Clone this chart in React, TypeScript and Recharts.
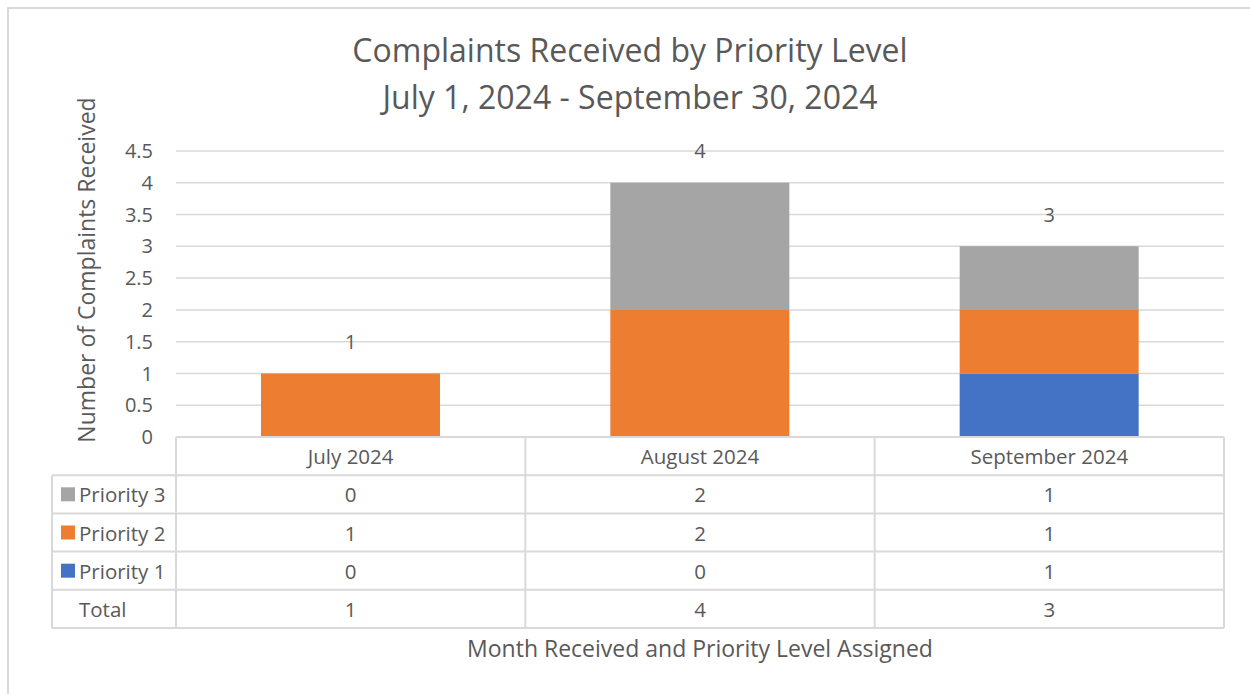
import React from "react";
import { ComposedChart, Bar, Line, XAxis, YAxis, CartesianGrid, LabelList } from "recharts";

const months = ["July 2024", "August 2024", "September 2024"];
const priority1 = [0, 0, 1];
const priority2 = [1, 2, 1];
const priority3 = [0, 2, 1];
const totals = [1, 4, 3];
const yTicks = [0, 0.5, 1, 1.5, 2, 2.5, 3, 3.5, 4, 4.5];

const C1 = "#4472c4";
const C2 = "#ed7d31";
const C3 = "#a5a5a5";
const TEXT = "#595959";
const LINE = "#d9d9d9";
const FONT = "'Open Sans', 'DejaVu Sans', sans-serif";

const data = months.map((m, i) => ({
  month: m,
  p1: priority1[i],
  p2: priority2[i],
  p3: priority3[i],
  total: totals[i],
}));

// table rows as shown under the plot (top to bottom)
const tableRows = [
  { label: "Priority 3", color: C3, values: priority3 },
  { label: "Priority 2", color: C2, values: priority2 },
  { label: "Priority 1", color: C1, values: priority1 },
  { label: "Total", color: null, values: totals },
];

const PLOT_L = 176;
const PLOT_R = 1224;
const PLOT_T = 151;
const PLOT_B = 437;
const KEY_L = 52;
const ROW_H = 38.2;
const TABLE_FS = 20.5;

function DataTable() {
  const colW = (PLOT_R - PLOT_L) / months.length;
  const bottom = PLOT_B + ROW_H * (tableRows.length + 1);
  return (
    <svg
      width={1250}
      height={694}
      style={{ position: "absolute", left: 0, top: 0, pointerEvents: "none" }}
      fontFamily={FONT}
    >
      <line x1={PLOT_L} x2={PLOT_R} y1={PLOT_B} y2={PLOT_B} stroke={LINE} strokeWidth={2} />
      {tableRows.map((_, r) => (
        <line
          key={r}
          x1={KEY_L}
          x2={PLOT_R}
          y1={PLOT_B + ROW_H * (r + 1)}
          y2={PLOT_B + ROW_H * (r + 1)}
          stroke={LINE}
          strokeWidth={2}
        />
      ))}
      <line x1={KEY_L} x2={PLOT_R} y1={bottom} y2={bottom} stroke={LINE} strokeWidth={2} />
      <line x1={KEY_L} x2={KEY_L} y1={PLOT_B + ROW_H} y2={bottom} stroke={LINE} strokeWidth={2} />
      {months.map((_, c) => (
        <line
          key={c}
          x1={PLOT_L + colW * c}
          x2={PLOT_L + colW * c}
          y1={PLOT_B}
          y2={bottom}
          stroke={LINE}
          strokeWidth={2}
        />
      ))}
      <line x1={PLOT_R} x2={PLOT_R} y1={PLOT_B} y2={bottom} stroke={LINE} strokeWidth={2} />
      {months.map((m, c) => (
        <text
          key={m}
          x={PLOT_L + colW * (c + 0.5)}
          y={PLOT_B + ROW_H / 2}
          textAnchor="middle"
          dominantBaseline="central"
          fontSize={TABLE_FS}
          fill={TEXT}
        >
          {m}
        </text>
      ))}
      {tableRows.map((row, r) => {
        const cy = PLOT_B + ROW_H * (r + 1.5);
        return (
          <g key={row.label}>
            {row.color && (
              <rect x={61} y={cy - 7} width={14} height={14} fill={row.color} />
            )}
            <text
              x={79}
              y={cy}
              dominantBaseline="central"
              fontSize={TABLE_FS}
              fill={TEXT}
            >
              {row.label}
            </text>
            {row.values.map((v, c) => (
              <text
                key={c}
                x={PLOT_L + colW * (c + 0.5)}
                y={cy}
                textAnchor="middle"
                dominantBaseline="central"
                fontSize={TABLE_FS}
                fill={TEXT}
              >
                {v}
              </text>
            ))}
          </g>
        );
      })}
    </svg>
  );
}

const renderTotal = (props: any) => {
  const { x, y, value } = props;
  return (
    <text
      x={x}
      y={y - 32}
      textAnchor="middle"
      dominantBaseline="central"
      fontSize={20}
      fontFamily={FONT}
      fill={TEXT}
    >
      {value}
    </text>
  );
};

export default function App() {
  return (
    <div
      style={{
        position: "absolute",
        left: 0,
        top: 0,
        width: 1250,
        height: 694,
        overflow: "hidden",
        background: "#fff",
        fontFamily: FONT,
      }}
    >
      <div
        style={{
          position: "absolute",
          left: 7,
          top: 7,
          width: 1270,
          height: 720,
          border: `2px solid ${LINE}`,
          boxSizing: "border-box",
        }}
      />
      <div
        style={{
          position: "absolute",
          left: 0,
          width: 1260,
          top: 26,
          textAlign: "center",
          fontSize: 32,
          lineHeight: "47px",
          color: TEXT,
        }}
      >
        Complaints Received by Priority Level
        <br />
        July 1, 2024 - September 30, 2024
      </div>
      <div
        style={{
          position: "absolute",
          left: 86,
          top: 270,
          transform: "translate(-50%, -50%) rotate(-90deg)",
          whiteSpace: "nowrap",
          fontSize: 23,
          color: TEXT,
        }}
      >
        Number of Complaints Received
      </div>
      <div
        style={{
          position: "absolute",
          left: PLOT_L,
          width: PLOT_R - PLOT_L,
          top: 632,
          textAlign: "center",
          fontSize: 23,
          color: TEXT,
        }}
      >
        Month Received and Priority Level Assigned
      </div>
      <div style={{ position: "absolute", left: 0, top: 0 }}>
        <ComposedChart
          width={1250}
          height={694}
          data={data}
          margin={{ top: PLOT_T, right: 1250 - PLOT_R, bottom: 694 - PLOT_B, left: 0 }}
        >
          <CartesianGrid vertical={false} stroke={LINE} strokeWidth={1.5} />
          <XAxis dataKey="month" height={0} tick={false} axisLine={false} tickLine={false} />
          <YAxis
            width={PLOT_L}
            domain={[0, 4.5]}
            ticks={yTicks}
            interval={0}
            axisLine={false}
            tickLine={false}
            tickMargin={17}
            tick={{ fill: TEXT, fontSize: 20, fontFamily: FONT }}
          />
          <Bar dataKey="p1" stackId="a" fill={C1} barSize={179} isAnimationActive={false} />
          <Bar dataKey="p2" stackId="a" fill={C2} barSize={179} isAnimationActive={false} />
          <Bar dataKey="p3" stackId="a" fill={C3} barSize={179} isAnimationActive={false} />
          <Line
            dataKey="total"
            stroke="none"
            dot={false}
            activeDot={false}
            legendType="none"
            isAnimationActive={false}
          >
            <LabelList dataKey="total" content={renderTotal} />
          </Line>
        </ComposedChart>
      </div>
      <DataTable />
    </div>
  );
}
